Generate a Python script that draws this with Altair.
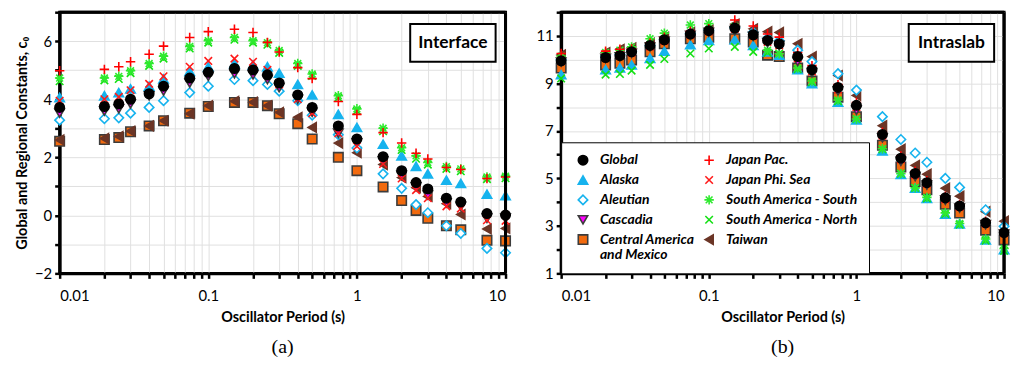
import altair as alt
import pandas as pd

periods = [0.01, 0.02, 0.025, 0.03, 0.04, 0.05, 0.075, 0.1, 0.15, 0.2, 0.25, 0.3,
           0.4, 0.5, 0.75, 1.0, 1.5, 2.0, 2.5, 3.0, 4.0, 5.0, 7.5, 10.0]

series_names = ["Global", "Alaska", "Aleutian", "Cascadia", "Central America and Mexico",
                "Japan Pac.", "Japan Phi. Sea", "South America - South",
                "South America - North", "Taiwan"]

# ---- (a) Interface ----
int_global = [3.72, 3.75, 3.84, 4.00, 4.19, 4.45, 4.73, 4.93, 5.06, 5.01, 4.84, 4.56,
              4.15, 3.72, 3.08, 2.63, 2.02, 1.54, 1.13, 0.91, 0.59, 0.46, 0.06, 0.01]
int_alaska = [4.06, 4.12, 4.23, 4.36, 4.45, 4.70, 4.96, 5.12, 5.23, 5.18, 5.12, 4.90,
              4.51, 4.15, 3.48, 3.03, 2.45, 2.05, 1.69, 1.43, 1.21, 1.10, 0.73, 0.68]
int_aleutian = [3.28, 3.33, 3.36, 3.52, 3.72, 3.95, 4.23, 4.45, 4.68, 4.64, 4.51, 4.28,
                3.95, 3.45, 2.78, 2.32, 1.43, 0.93, 0.37, 0.09, -0.36, -0.62, -1.14, -1.29]
int_cascadia = [3.52, 3.59, 3.67, 3.84, 4.12, 4.28, 4.56, 4.79, 4.88, 4.84, 4.68, 4.40,
                4.00, 3.55, 2.83, 2.50, 1.88, 1.38, 0.98, 0.70, 0.43, 0.31, -0.10, -0.10]
int_cam = [2.55, 2.61, 2.68, 2.88, 3.08, 3.26, 3.52, 3.75, 3.89, 3.89, 3.78, 3.50,
           3.16, 2.63, 2.00, 1.54, 0.98, 0.51, 0.17, -0.10, -0.36, -0.50, -0.86, -0.88]
int_jpac = [4.98, 5.03, 5.12, 5.29, 5.55, 5.83, 6.13, 6.33, 6.41, 6.30, 5.96, 5.63,
            5.09, 4.71, 3.92, 3.48, 2.85, 2.49, 2.14, 1.94, 1.65, 1.58, 1.27, 1.32]
int_jphi = [3.95, 4.00, 4.08, 4.31, 4.53, 4.79, 5.12, 5.32, 5.40, 5.29, 5.01, 4.51,
            4.00, 3.52, 2.83, 2.38, 1.77, 1.27, 0.87, 0.59, 0.31, 0.23, -0.17, -0.19]
int_sas = [4.73, 4.73, 4.79, 4.98, 5.23, 5.48, 5.82, 6.02, 6.13, 6.02, 5.95, 5.68,
           5.23, 4.87, 4.12, 3.67, 3.00, 2.33, 2.05, 1.82, 1.68, 1.60, 1.32, 1.35]
int_san = [4.62, 4.65, 4.70, 4.90, 5.15, 5.40, 5.75, 5.95, 6.05, 5.95, 5.88, 5.60,
           5.15, 4.80, 4.05, 3.60, 2.90, 2.25, 1.95, 1.75, 1.60, 1.52, 1.25, 1.28]
int_taiwan = [2.60, 2.65, 2.72, 2.90, 3.08, 3.26, 3.50, 3.78, 3.93, 3.90, 3.78, 3.55,
              3.38, 3.03, 2.49, 2.16, 1.75, 1.30, 0.95, 0.65, 0.40, 0.03, -0.47, -0.45]

# ---- (b) Intraslab ----
slab_global = [9.95, 10.09, 10.17, 10.33, 10.60, 10.84, 11.08, 11.22, 11.33, 11.05, 10.81, 10.67,
               10.13, 9.58, 8.83, 8.08, 6.85, 5.85, 5.21, 4.82, 4.18, 3.84, 3.13, 2.72]
slab_alaska = [9.37, 9.58, 9.65, 9.78, 10.06, 10.36, 10.63, 10.81, 10.85, 10.60, 10.33, 10.19,
               9.58, 8.99, 8.21, 7.46, 6.16, 5.17, 4.59, 4.16, 3.50, 3.09, 2.41, 2.00]
slab_aleutian = [10.00, 10.15, 10.22, 10.35, 10.60, 10.85, 11.10, 11.25, 11.35, 11.15, 10.90, 10.80,
                 10.40, 9.92, 9.41, 8.72, 7.60, 6.64, 6.07, 5.68, 5.00, 4.62, 3.68, 2.98]
slab_cascadia = [9.90, 10.05, 10.12, 10.27, 10.53, 10.78, 11.02, 11.15, 11.22, 10.98, 10.72, 10.60,
                 9.92, 9.45, 8.69, 7.87, 6.71, 5.72, 5.08, 4.72, 4.08, 3.75, 3.05, 2.65]
slab_cam = [9.65, 9.78, 9.85, 9.99, 10.33, 10.67, 10.88, 10.95, 10.88, 10.74, 10.19, 10.13,
            9.65, 9.10, 8.42, 7.60, 6.40, 5.48, 4.87, 4.52, 3.91, 3.54, 2.82, 2.41]
slab_jpac = [10.26, 10.36, 10.44, 10.45, 10.70, 10.95, 11.20, 11.30, 11.67, 11.42, 11.08, 10.95,
             10.30, 9.75, 8.95, 8.20, 6.95, 5.95, 5.30, 4.90, 4.25, 3.90, 3.20, 2.80]
slab_jphi = [9.95, 10.10, 10.20, 10.30, 10.55, 10.80, 11.05, 11.20, 11.30, 11.00, 10.75, 10.60,
             10.05, 9.50, 8.75, 8.00, 6.80, 5.80, 5.15, 4.78, 4.12, 3.80, 3.10, 2.70]
slab_sas = [10.15, 10.30, 10.40, 10.54, 10.88, 11.12, 11.46, 11.52, 11.40, 11.00, 10.40, 10.25,
            9.65, 9.10, 8.30, 7.50, 6.25, 5.20, 4.60, 4.20, 3.55, 3.10, 2.45, 2.05]
slab_san = [9.21, 9.37, 9.40, 9.54, 9.78, 10.03, 10.26, 10.47, 10.54, 10.33, 10.30, 10.26,
            9.60, 9.05, 8.25, 7.50, 6.23, 5.20, 4.60, 4.16, 3.50, 3.05, 2.38, 1.95]
slab_taiwan = [10.20, 10.30, 10.44, 10.50, 10.70, 10.95, 11.15, 11.25, 11.50, 11.30, 11.18, 11.15,
               10.67, 10.13, 9.33, 8.49, 7.22, 6.23, 5.55, 5.18, 4.59, 4.25, 3.60, 3.20]

interface = dict(zip(series_names, [int_global, int_alaska, int_aleutian, int_cascadia, int_cam,
                                    int_jpac, int_jphi, int_sas, int_san, int_taiwan]))
intraslab = dict(zip(series_names, [slab_global, slab_alaska, slab_aleutian, slab_cascadia, slab_cam,
                                    slab_jpac, slab_jphi, slab_sas, slab_san, slab_taiwan]))

# drawing order (first drawn at the bottom)
draw_order = ["Central America and Mexico", "Taiwan", "Aleutian", "Alaska",
              "South America - North", "South America - South", "Cascadia",
              "Japan Phi. Sea", "Japan Pac.", "Global"]

legend_order = series_names

PLUS = "M-1,0L1,0M0,-1L0,1"
XMARK = "M-0.8,-0.8L0.8,0.8M-0.8,0.8L0.8,-0.8"
STAR = "M-1,0L1,0M0,-1L0,1M-0.72,-0.72L0.72,0.72M-0.72,0.72L0.72,-0.72"

style = {
    "Global": ("#000000", "#000000", "circle"),
    "Alaska": ("#16B3EE", "#16B3EE", "triangle-up"),
    "Aleutian": ("#FFFFFF", "#16B3EE", "diamond"),
    "Cascadia": ("#FF00FF", "#3C3C3C", "triangle-down"),
    "Central America and Mexico": ("#F26A0E", "#3C3C3C", "square"),
    "Japan Pac.": ("transparent", "#FF0000", PLUS),
    "Japan Phi. Sea": ("transparent", "#FF1A1A", XMARK),
    "South America - South": ("transparent", "#2EEA2E", STAR),
    "South America - North": ("transparent", "#14E014", XMARK),
    "Taiwan": ("#6B3526", "#6B3526", "triangle-left"),
}
fill_range = [style[s][0] for s in legend_order]
stroke_range = [style[s][1] for s in legend_order]
shape_range = [style[s][2] for s in legend_order]


def make_df(d):
    rows = []
    for s in draw_order:
        for p, v in zip(periods, d[s]):
            rows.append({"period": p, "value": v, "series": s})
    return pd.DataFrame(rows)


x_vals = [0.01, 0.02, 0.03, 0.04, 0.05, 0.06, 0.07, 0.08, 0.09,
          0.1, 0.2, 0.3, 0.4, 0.5, 0.6, 0.7, 0.8, 0.9,
          1, 2, 3, 4, 5, 6, 7, 8, 9, 10]

FONT = "Lato"
H = 263


def panel(d, W, ydomain, yvals, ylabel_expr, ytitle, label_text, bottom_title, show_legend):
    legend = alt.Legend(
        orient="bottom-left", columns=2, title=None, offset=0,
        padding=11, strokeColor="black", fillColor="white",
        labelFont=FONT, labelFontStyle="italic", labelFontWeight="bold",
        labelFontSize=14, labelColor="black", labelLimit=220,
        symbolSize=90, symbolStrokeWidth=1.6, symbolOffset=4,
        columnPadding=3, rowPadding=4, labelOffset=10,
        labelExpr="datum.label == 'Central America and Mexico' ? ['Central America', 'and Mexico'] : datum.label",
    ) if show_legend else None

    pts = alt.Chart(make_df(d)).mark_point(opacity=1, strokeWidth=1.6, size=90).encode(
        x=alt.X("period:Q",
                scale=alt.Scale(type="log", domain=[0.01, 10], nice=False),
                axis=alt.Axis(values=x_vals, format="~g",
                              labelExpr="indexof(['0.01','0.1','1','10'], datum.label) >= 0 ? datum.label : ''",
                              title="Oscillator Period (s)", labelPadding=10, titlePadding=7)),
        y=alt.Y("value:Q",
                scale=alt.Scale(domain=ydomain, nice=False, zero=False),
                axis=alt.Axis(values=yvals, labelExpr=ylabel_expr, title=ytitle)),
        fill=alt.Fill("series:N", scale=alt.Scale(domain=legend_order, range=fill_range), legend=legend),
        stroke=alt.Stroke("series:N", scale=alt.Scale(domain=legend_order, range=stroke_range), legend=legend),
        shape=alt.Shape("series:N", scale=alt.Scale(domain=legend_order, range=shape_range), legend=legend),
    )

    lab = pd.DataFrame({"t": [label_text]})
    top_edge = alt.Chart(lab).mark_rule(color="black", strokeWidth=3).encode(
        x=alt.value(0), x2=alt.value(W), y=alt.value(0))
    right_edge = alt.Chart(lab).mark_rule(color="black", strokeWidth=3).encode(
        x=alt.value(W), y=alt.value(0), y2=alt.value(H))
    box = alt.Chart(lab).mark_rect(fill="white", stroke="black", strokeWidth=2).encode(
        x=alt.value(W - 96), x2=alt.value(W - 10), y=alt.value(12), y2=alt.value(50))
    txt = alt.Chart(lab).mark_text(font=FONT, fontWeight="bold", fontSize=17.5, color="black").encode(
        text="t:N", x=alt.value(W - 53), y=alt.value(31))

    return alt.layer(pts, top_edge, right_edge, box, txt).properties(
        width=W, height=H,
        title=alt.TitleParams(bottom_title, orient="bottom", font="Liberation Serif",
                              fontSize=20, fontWeight="normal", offset=14, frame="group",
                              color="black"),
    )


left = panel(interface, 449, [-2, 7], list(range(-2, 8)),
             "datum.value % 2 == 0 ? datum.label : ''",
             "Global and Regional Constants, c₀", "Interface", "(a)", False)
right = panel(intraslab, 446, [1, 12], list(range(1, 13)),
              "datum.value % 2 == 1 ? datum.label : ''",
              None, "Intraslab", "(b)", True)

chart = alt.hconcat(
    left, right, spacing=19, background="white",
    padding={"left": 5, "top": 0, "right": 0, "bottom": 0},
).resolve_legend(
    fill="independent", stroke="independent", shape="independent"
).configure_view(
    stroke="black", strokeWidth=3
).configure_axis(
    domainColor="black", domainWidth=3, tickColor="black", tickWidth=2.5, tickSize=5,
    gridColor="#E0E0E0", gridWidth=1,
    labelFont=FONT, labelFontSize=15, labelColor="black", labelPadding=3,
    titleFont=FONT, titleFontSize=14.5, titleFontWeight="bold", titleColor="black",
    titlePadding=5,
)

chart.save("out.html", embed_options={"renderer": "svg", "actions": False})
